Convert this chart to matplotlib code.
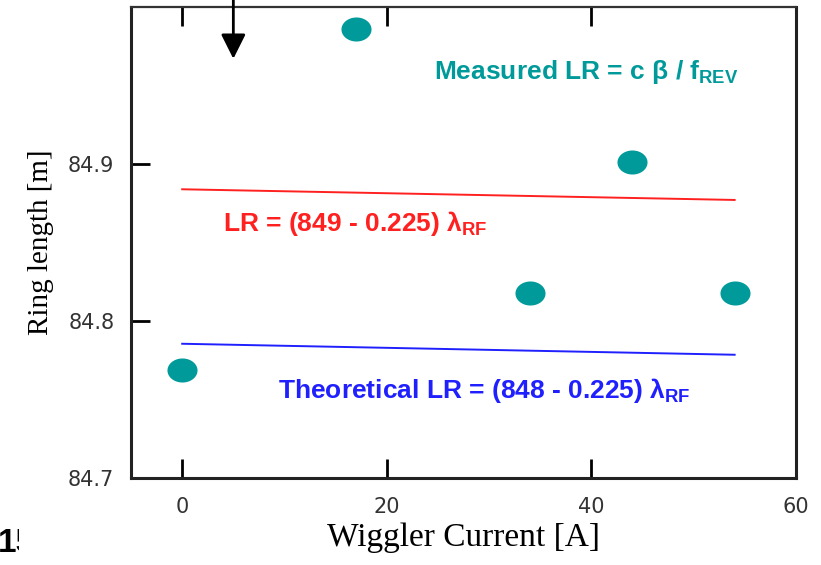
import numpy as np
import matplotlib
matplotlib.use("Agg")
import matplotlib.pyplot as plt
from matplotlib.path import Path
from matplotlib.transforms import Bbox

# merene body (proud wiggleru, delka prstence)
proud = [0, 17, 34, 44, 54]
delka = [84.769, 84.986, 84.818, 84.901, 84.818]

# cary: LR = (849 - 0.225) lambda_RF a teoreticka (848 - 0.225) lambda_RF
cara_x = [0, 54]
cara_cervena = [84.8839, 84.8771]
cara_modra = [84.7855, 84.7785]

x_ticks = [0, 20, 40, 60]
y_ticks = [84.7, 84.8, 84.9]

plt.rcParams["mathtext.fontset"] = "custom"
plt.rcParams["mathtext.rm"] = "Liberation Sans:bold"
plt.rcParams["mathtext.it"] = "Liberation Sans:bold"
plt.rcParams["mathtext.bf"] = "Liberation Sans:bold"

fig = plt.figure(figsize=(8.21, 5.65), dpi=100)
ax = fig.add_axes([0.1596, 0.1540, 0.81, 0.8336])

teal = "#009a9a"

# elipticky marker (sirsi nez vyssi)
t = np.linspace(0, 2 * np.pi, 40)
elipsa = Path(np.column_stack([np.cos(t) * 1.0, np.sin(t) * 0.8]), closed=True)

ax.plot(cara_x, cara_cervena, color="#ff2020", lw=1.4)
ax.plot(cara_x, cara_modra, color="#2020ff", lw=1.4)
ax.scatter(proud, delka, s=470, marker=elipsa, color=teal, zorder=3, linewidths=0)

ax.set_xlim(-5, 60)
ax.set_ylim(84.7, 85.0)
ax.set_xticks(x_ticks)
ax.set_yticks(y_ticks)
ax.set_yticklabels([f"{v:.1f}" for v in y_ticks])
ax.tick_params(direction="in", length=14, width=2, top=True, right=False,
               labelsize=15, labelcolor="#333333", pad=12)
ax.tick_params(axis="x", pad=14)
for strana in ["left", "bottom", "right"]:
    ax.spines[strana].set_linewidth(2.2)
    ax.spines[strana].set_color("#222222")
ax.spines["top"].set_linewidth(1.6)
ax.spines["top"].set_color("#333333")

ax.set_xlabel("Wiggler Current [A]", family="Liberation Serif", fontsize=24, labelpad=4)
ax.set_ylabel("Ring length [m]", family="Liberation Serif", fontsize=21, labelpad=10)

ax.text(24.6, 84.9586, r"Measured LR = c β / $f_{REV}$", fontsize=19,
        fontweight="bold", family="Liberation Sans", color=teal, va="center")

# texty car
ax.text(4.0, 84.862, r"LR = (849 - 0.225) $\lambda_{RF}$", fontsize=19,
        fontweight="bold", family="Liberation Sans", color="#ff2020", va="center")
ax.text(9.4, 84.756, r"Theoretical LR = (848 - 0.225) $\lambda_{RF}$", fontsize=19,
        fontweight="bold", family="Liberation Sans", color="#2020ff", va="center")

# sipka shora
ax.annotate("", xy=(5, 84.967), xytext=(5, 85.02), annotation_clip=False,
            arrowprops=dict(arrowstyle="-|>,head_length=1.0,head_width=0.5",
                            mutation_scale=15, lw=2, color="black",
                            shrinkA=0, shrinkB=0))

# orizle cislo snimku vlevo dole
cislo = fig.text(-0.002, 1 - 543 / 565, "15", fontsize=24, fontweight="bold",
                 family="Liberation Sans", va="center")
cislo.set_clip_box(Bbox([[0, 0], [19, 565]]))
cislo.set_clip_on(True)

fig.savefig("out.png", dpi=100)
